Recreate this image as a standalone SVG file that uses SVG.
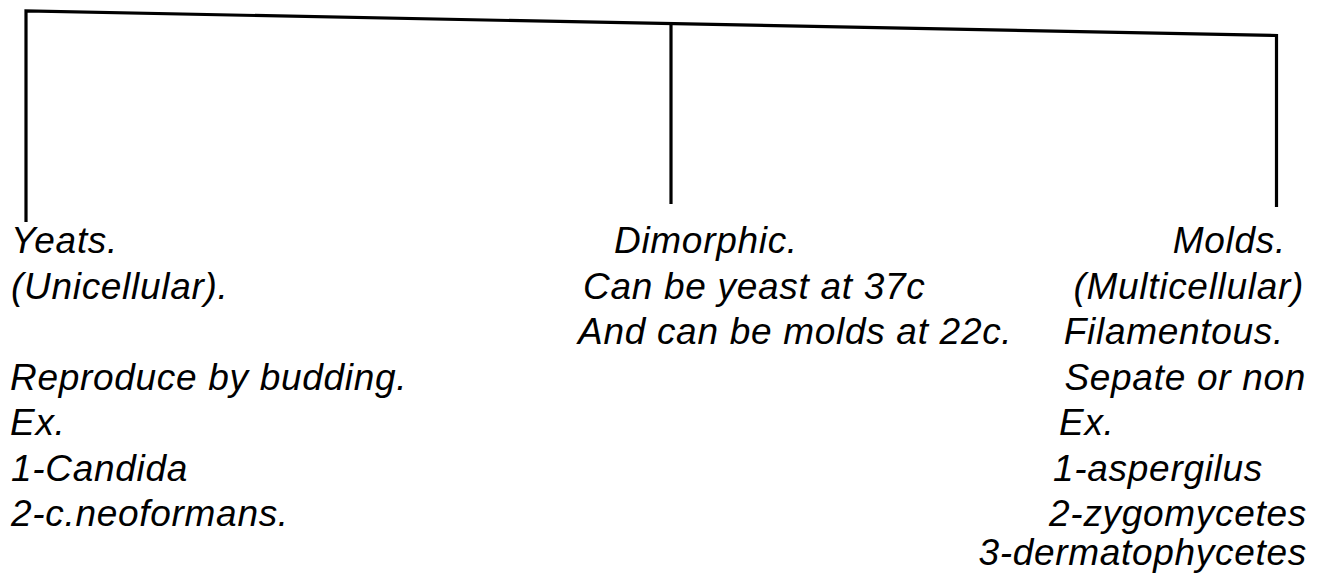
<svg xmlns="http://www.w3.org/2000/svg" width="1320" height="575" viewBox="0 0 1320 575">
  <style>
    .bg { fill: #ffffff; }
    .wire { fill: none; stroke: #000000; stroke-width: 3.2; stroke-linejoin: miter; stroke-linecap: butt; }
    .txt { font-family: "Liberation Sans", Arial, Helvetica, sans-serif; font-style: italic; font-size: 37px; letter-spacing: 0.7px; fill: #000000; }
    .end { text-anchor: end; }
  </style>
  <rect class="bg" x="0" y="0" width="1320" height="575"/>

  <!-- tree connectors: slanted bar with three drops -->
  <g id="connectors">
    <polyline class="wire" points="26,222 26,11 1276.5,35.5 1276.5,207"/>
    <line class="wire" x1="671" y1="23" x2="671" y2="204"/>
  </g>

  <!-- left branch -->
  <g id="node-yeasts">
    <text class="txt" x="11" y="253">Yeats.</text>
    <text class="txt" x="11" y="299">(Unicellular).</text>
    <text class="txt" x="10" y="390">Reproduce by budding.</text>
    <text class="txt" x="10" y="435">Ex.</text>
    <text class="txt" x="11" y="481">1-Candida</text>
    <text class="txt" x="11" y="526">2-c.neoformans.</text>
  </g>

  <!-- middle branch -->
  <g id="node-dimorphic">
    <text class="txt" x="614" y="253">Dimorphic.</text>
    <text class="txt" x="583" y="299">Can be yeast at 37c</text>
    <text class="txt" x="578" y="344">And can be molds at 22c.</text>
  </g>

  <!-- right branch -->
  <g id="node-molds">
    <text class="txt end" x="1286" y="253">Molds.</text>
    <text class="txt end" x="1304" y="299">(Multicellular)</text>
    <text class="txt end" x="1284" y="344">Filamentous.</text>
    <text class="txt end" x="1306" y="390">Sepate or non</text>
    <text class="txt" x="1059" y="435">Ex.</text>
    <text class="txt end" x="1263" y="481">1-aspergilus</text>
    <text class="txt end" x="1307" y="526">2-zygomycetes</text>
    <text class="txt end" x="1307" y="565">3-dermatophycetes</text>
  </g>
</svg>
